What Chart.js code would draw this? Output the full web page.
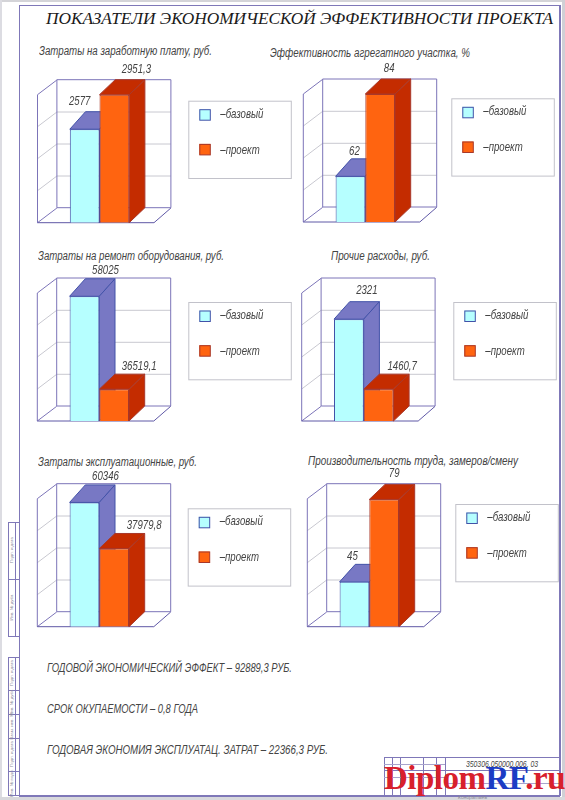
<!DOCTYPE html>
<html lang="ru"><head><meta charset="utf-8">
<script src="https://cdn.jsdelivr.net/npm/chart.js@4"></script>
<style>
html,body{margin:0;padding:0;background:#fff}
#page{position:relative;width:565px;height:800px;overflow:hidden;background:#fff;font-family:"Liberation Sans",sans-serif;font-style:italic;color:#444}
#page canvas{position:absolute}
.t{position:absolute;white-space:nowrap;line-height:1;transform-origin:left center}
.r{position:absolute;white-space:nowrap;font-size:4.4px;color:#8a8a9a;font-style:normal;transform-origin:center;line-height:1}
.l{position:absolute;background:#7f78b8}
</style></head><body><div id="page"></div>
<script>
// ---- data ----
const categories = [''];
const seriesNames = ['–базовый', '–проект'];
const chartTitles = [
  'Затраты на заработную плату, руб.',
  'Эффективность агрегатного участка, %',
  'Затраты на ремонт оборудования, руб.',
  'Прочие расходы, руб.',
  'Затраты эксплуатационные, руб.',
  'Производительность труда, замеров/смену'
];
const baseValues    = [2577, 62, 58025, 2321, 60346, 45];
const projectValues = [2951.3, 84, 36519.1, 1460.7, 37979.8, 79];
const axisMin = [1563, 49.8, 29150, 1069, 0, 26.5];
const axisMax = [2951.3, 84, 58781, 2643, 62150, 79.3];
const pageTitle = 'ПОКАЗАТЕЛИ ЭКОНОМИЧЕСКОЙ ЭФФЕКТИВНОСТИ ПРОЕКТА';
const summaryLines = [
  'ГОДОВОЙ ЭКОНОМИЧЕСКИЙ ЭФФЕКТ – 92889,3 РУБ.',
  'СРОК ОКУПАЕМОСТИ – 0,8 ГОДА',
  'ГОДОВАЯ ЭКОНОМИЯ ЭКСПЛУАТАЦ. ЗАТРАТ – 22366,3 РУБ.'
];
const sideStampLabels = ['Подп. и дата', 'Инв. № дубл.', 'Взам. инв. №', 'Подп. и дата', 'Инв. № подл.'];
const stampCode = '350306.050000.006. 03';

// ---- layout ----
const tileLeft = [20, 295, 20, 295, 20, 295];
const tileTop = [60, 60, 262, 262, 466, 466];
const tileW = [275, 268, 275, 268, 275, 268];
const tileH = 175;
const plotLeft = [37.5, 303.3, 37.3, 301.7, 37.3, 307.3];
const plotBottom = [222.7, 222, 421, 421, 626.7, 626.7];
const plotW = 124, plotH = 128;
const legendX = [188.3, 451.3, 188.3, 453.3, 187.7, 455.3];
const legendY = [100.7, 98.3, 302, 302, 508.3, 504];
const labelDx = [[-5, 22], [4, 9], [21, 25], [18, 23.6], [21, 30], [-2, 10]];
const labelDy = [[-28, -25], [-25, -25.7], [-25.7, -23], [-28.7, -23], [-26, -23], [-25, -25.7]];
const titleX = [39, 270, 38, 331, 38, 308];
const titleY = [51, 53, 256, 256, 462, 461];
const titleW = [173, 200, 186, 99, 159, 210];
const summaryY = [667, 708, 749];
const summaryW = [245, 151, 281];
const condense = 0.74;

const colours = {
  wall: '#7c74b8', floor: '#5f58a6', grid: '#c8c8d0', legend: '#c2c2ca', text: '#444444',
  baseFace: '#b6ffff', baseEdge: '#4252a8', baseDepth: '#7878c4',
  projFace: '#ff6410', projEdge: '#a8382a', projDepth: '#c42c00'
};
const page = document.getElementById('page');
const FONT = '"Liberation Sans",sans-serif';

function line(x, y, w, h, c) {
  const d = document.createElement('div'); d.className = 'l';
  d.style.cssText = `left:${x}px;top:${y}px;width:${w}px;height:${h}px` + (c ? `;background:${c}` : '');
  page.appendChild(d);
}
// text squeezed horizontally to the given width
function text(s, x, y, size, width, extra) {
  const d = document.createElement('div'); d.className = 't'; d.textContent = s;
  d.style.left = x + 'px'; d.style.top = (y - size / 2) + 'px'; d.style.fontSize = size + 'px';
  if (extra) Object.assign(d.style, extra);
  page.appendChild(d);
  if (width) d.style.transform = `scaleX(${width / d.getBoundingClientRect().width})`;
  return d;
}
function squeezed(ctx, s, x, y) {
  ctx.save(); ctx.translate(x, y); ctx.scale(condense, 1); ctx.fillText(s, 0, 0); ctx.restore();
}

// sheet edges and frame
line(0, 0, 565, 2, '#d4d4d8'); line(0, 0, 2, 800, '#dcdce2'); line(562, 0, 3, 800, '#d0d0d6'); line(0, 797, 565, 3, '#d8d8dc');
line(19, 5, 541, 1); line(19, 5, 1, 791); line(559, 5, 1.5, 791); line(19, 795, 541, 1.5);

// side stamps
[[522, 636], [657, 795]].forEach(([a, b]) => {
  line(8, a, 12, 1); line(8, b, 12, 1); line(8, a, 1, b - a); line(15, a, 1, b - a);
});
[579, 690, 714, 738, 771].forEach(y => line(8, y, 12, 1));
[[550, 0], [607, 1], [673, 0], [702, 1], [726, 2], [754, 3], [783, 4]].forEach(([y, i]) => {
  const d = document.createElement('div'); d.className = 'r'; d.textContent = sideStampLabels[i];
  d.style.cssText = `left:11.5px;top:${y}px;transform:translate(-50%,-50%) rotate(-90deg)`;
  page.appendChild(d);
});

// title block
line(384, 757, 175, 1); line(384, 770, 175, 1); line(384, 757, 1, 38);
[392, 400, 423, 436, 445].forEach(x => line(x, 757, 1, 38));
line(384, 764, 61, 1, '#a8a4cc'); line(384, 777, 61, 1, '#a8a4cc'); line(445, 783, 114, 1, '#a8a4cc');
text(stampCode, 466, 764, 9, 72);
text('Кондратьев', 458, 797, 5, 0, {color: '#8a8a9a'});

// page title
text(pageTitle, 46, 18.5, 17.5, 507, {fontFamily: '"Liberation Serif",serif', color: '#1a1a1a'});
// chart titles
chartTitles.forEach((s, i) => text(s, titleX[i], titleY[i], 12.5, titleW[i]));
// summary
summaryLines.forEach((s, i) => text(s, 47, summaryY[i], 13, summaryW[i]));

// 3D box, tick grid, bar depth, value labels and legend
const box3d = {
  id: 'box3d',
  beforeDatasetsDraw(chart) {
    const {ctx, chartArea: ca, scales: {y}} = chart;
    const L = ca.left, B = ca.bottom, T = ca.top;
    const ox = 19.4, oy = 14.7, backR = L + 133.4, frontR = L + 116.5, backL = L + ox;
    ctx.save();
    // grid from the y scale's own ticks
    ctx.strokeStyle = colours.grid; ctx.lineWidth = 1;
    y.ticks.forEach((t, k) => {
      if (k === 0 || k === y.ticks.length - 1) return;
      const py = y.getPixelForValue(t.value);
      ctx.beginPath(); ctx.moveTo(L, py); ctx.lineTo(backL, py - oy); ctx.lineTo(backR, py - oy); ctx.stroke();
    });
    ctx.strokeStyle = colours.wall;
    ctx.beginPath(); ctx.rect(backL, T - oy - .3, backR - backL, B - T); ctx.stroke();
    ctx.beginPath(); ctx.moveTo(backL, T - oy); ctx.lineTo(L, T); ctx.lineTo(L, B); ctx.lineTo(backL, B - oy); ctx.stroke();
    ctx.strokeStyle = colours.floor;
    ctx.beginPath(); ctx.moveTo(L, B); ctx.lineTo(frontR, B); ctx.lineTo(backR, B - oy); ctx.stroke();
    // depth faces
    const draw = (bar, fill, edge, dx, dy) => {
      const l = bar.x - bar.width / 2, r = bar.x + bar.width / 2;
      ctx.fillStyle = fill; ctx.strokeStyle = edge; ctx.lineWidth = 1;
      ctx.beginPath(); ctx.moveTo(l, bar.y); ctx.lineTo(l + dx, bar.y - dy); ctx.lineTo(r + dx, bar.y - dy); ctx.lineTo(r, bar.y); ctx.closePath(); ctx.fill(); ctx.stroke();
      ctx.beginPath(); ctx.moveTo(r, bar.y); ctx.lineTo(r + dx, bar.y - dy); ctx.lineTo(r + dx, bar.base - dy); ctx.lineTo(r, bar.base); ctx.closePath(); ctx.fill(); ctx.stroke();
    };
    draw(chart.getDatasetMeta(0).data[0], colours.baseDepth, colours.baseEdge, 15.7, 17.5);
    draw(chart.getDatasetMeta(1).data[0], colours.projDepth, colours.projEdge, 15.7, 15);
    ctx.restore();
  },
  afterDatasetsDraw(chart, _a, o) {
    const {ctx} = chart; const i = o.index;
    const oL = tileLeft[i], oT = tileTop[i];
    ctx.save();
    ctx.fillStyle = colours.text; ctx.textAlign = 'center'; ctx.textBaseline = 'middle';
    ctx.font = `italic 13px ${FONT}`;
    chart.data.datasets.forEach((ds, k) => {
      const b = chart.getDatasetMeta(k).data[0];
      squeezed(ctx, String(ds.data[0]).replace('.', ','), b.x + labelDx[i][k], b.y + labelDy[i][k]);
    });
    // legend
    const X = legendX[i] - oL, Y = legendY[i] - oT;
    ctx.strokeStyle = colours.legend; ctx.lineWidth = 1;
    ctx.strokeRect(X + .5, Y + .5, 102.5, 77.3);
    ctx.textAlign = 'left';
    chart.data.datasets.forEach((ds, k) => {
      const sy = Y + 8.5 + k * 34.7;
      ctx.fillStyle = ds.backgroundColor; ctx.strokeStyle = ds.borderColor;
      ctx.fillRect(X + 11, sy, 11, 11); ctx.strokeRect(X + 11.5, sy + .5, 10.5, 10.5);
      ctx.fillStyle = colours.text;
      squeezed(ctx, ds.label, X + 32, sy + 5 + k);
    });
    ctx.restore();
  }
};

baseValues.forEach((_, i) => {
  const c = document.createElement('canvas');
  c.style.left = tileLeft[i] + 'px'; c.style.top = tileTop[i] + 'px';
  c.style.width = tileW[i] + 'px'; c.style.height = tileH + 'px';
  c.width = tileW[i]; c.height = tileH;
  page.appendChild(c);
  const padL = plotLeft[i] - tileLeft[i];
  const padB = tileTop[i] + tileH - plotBottom[i];
  new Chart(c, {
    type: 'bar',
    data: {
      labels: categories,
      datasets: [
        {label: seriesNames[0], data: [baseValues[i]], base: axisMin[i], backgroundColor: colours.baseFace, borderColor: colours.baseEdge, borderWidth: 1},
        {label: seriesNames[1], data: [projectValues[i]], base: axisMin[i], backgroundColor: colours.projFace, borderColor: colours.projEdge, borderWidth: 1}
      ]
    },
    options: {
      responsive: false, animation: false, devicePixelRatio: 1,
      datasets: {bar: {categoryPercentage: 0.479, barPercentage: 1}},
      layout: {padding: {left: padL, right: tileW[i] - padL - plotW, bottom: padB, top: tileH - padB - plotH}},
      plugins: {legend: {display: false}, title: {display: false}, tooltip: {enabled: false}, box3d: {index: i}},
      scales: {
        x: {display: false},
        y: {display: false, min: axisMin[i], max: axisMax[i], ticks: {count: 5}}
      }
    },
    plugins: [box3d]
  });
});

// watermark
const wm = document.createElement('div');
wm.style.cssText = 'position:absolute;left:384px;top:760px;font:bold 33px "Liberation Serif",serif;line-height:1.1;white-space:nowrap;color:#d8202c';
wm.innerHTML = 'Diplom<span style="color:#1c3cc4">RF</span>.ru';
page.appendChild(wm);
wm.style.letterSpacing = ((181 - wm.getBoundingClientRect().width) / 11) + 'px';
</script></body></html>
